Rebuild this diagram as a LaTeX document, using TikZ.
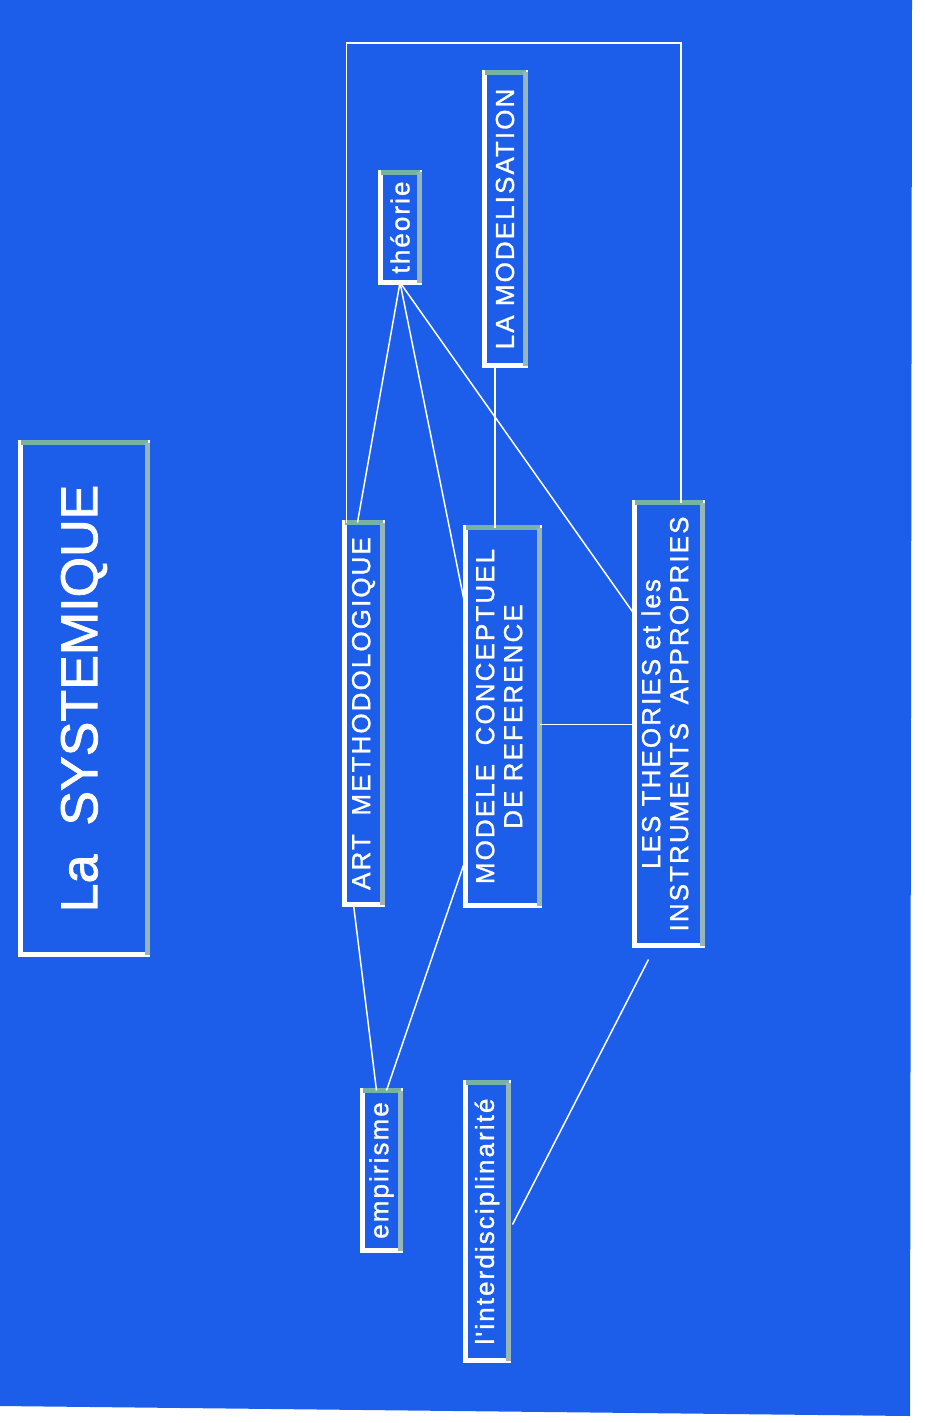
\documentclass[tikz,border=0pt]{standalone}
\usepackage{fontspec}
\setmainfont{Liberation Sans}
\newfontfamily\boxfont[LetterSpace=8,FakeBold=1.2]{Liberation Sans}
\newfontfamily\titlefont[FakeBold=1.5]{Liberation Sans}
\usepackage{graphicx}
\usepackage{xcolor}
\definecolor{sysblue}{RGB}{28, 94, 234}
\definecolor{bevel}{RGB}{120, 178, 165}
\definecolor{bevelside}{RGB}{150, 182, 186}
\usetikzlibrary{calc}

\begin{document}
\begin{tikzpicture}[
        x=1pt, y=-1pt,
        box/.style={
            rectangle,
            draw=white,
            line width=5pt,
            inner sep=0pt,
            outer sep=0pt,
            text=white,
            align=center,
            font=\boxfont\fontsize{26}{28}\selectfont
        },
        link/.style={
            draw=white,
            line width=1.5pt
        },
        edge top/.style={draw=bevel, line width=5pt},
        edge side/.style={draw=bevelside, line width=5pt}
    ]
        % Background
        \fill[white] (0,0) rectangle (925,1423);
        \fill[sysblue] (0,0) -- (912,0) -- (910,1416) -- (0,1406) -- cycle;
        \useasboundingbox (0,0) rectangle (925,1423);

        % Boxes
        \node[box, minimum width=127pt, minimum height=512pt, font=\titlefont\fontsize{52}{60}\selectfont] (titre) at (84,698.5) {\rotatebox{90}{La\ \ SYSTEMIQUE}};
        \node[box, minimum width=39pt, minimum height=110pt] (theorie) at (400,227.5) {\rotatebox{90}{théorie}};
        \node[box, minimum width=41pt, minimum height=293pt] (modelisation) at (505,219) {\rotatebox{90}{LA MODELISATION}};
        \node[box, minimum width=38pt, minimum height=382pt] (art) at (363.5,713.5) {\rotatebox{90}{ART\ \ METHODOLOGIQUE}};
        \node[box, minimum width=74pt, minimum height=378pt] (modele) at (502.5,716.5) {\rotatebox{90}{\begin{tabular}{@{}c@{}}MODELE\ \ CONCEPTUEL\\DE REFERENCE\end{tabular}}};
        \node[box, minimum width=68pt, minimum height=443pt] (theories) at (668.5,724) {\rotatebox{90}{\begin{tabular}{@{}c@{}}LES THEORIES et les\\INSTRUMENTS\ \ APPROPRIES\end{tabular}}};
        \node[box, minimum width=38pt, minimum height=160pt] (empirisme) at (381.5,1170.5) {\rotatebox{90}{empirisme}};
        \node[box, minimum width=43pt, minimum height=278pt] (interdisc) at (487,1221.5) {\rotatebox{90}{l'interdisciplinarité}};

        % Bevelled edges
        \foreach \n in {titre,theorie,modelisation,art,modele,theories,empirisme,interdisc} {
            \draw[edge top] (\n.north west) -- (\n.north east);
            \draw[edge side] (\n.north east) -- (\n.south east);
        }

        % Links
        \coordinate (cadre) at (681,43);
        \draw[link] ([xshift=2pt]art.north west) |- (cadre) -- (cadre |- theories.north);
        \draw[link] (theorie.south) -- ([xshift=-6pt]art.north);
        \draw[link] (theorie.south) -- ([yshift=-80pt]modele.north west);
        \draw[link] (theorie.south) -- ([yshift=-112pt]theories.north west);
        \draw[link] ([xshift=-10pt]modelisation.south) -- ([xshift=-10pt]modelisation.south |- modele.north);
        \draw[link] ([yshift=-8pt]modele.east) -- ([yshift=-8pt]modele.east -| theories.west);
        \draw[link] ([xshift=-10pt]art.south) -- ([xshift=-5pt]empirisme.north);
        \draw[link] ([yshift=46pt]modele.south west) -- ([xshift=5pt]empirisme.north);
        \draw[link] ([xshift=14pt,yshift=-14pt]theories.south west) -- ([xshift=4pt,yshift=-142pt]interdisc.north east);
    \end{tikzpicture}
\end{document}
